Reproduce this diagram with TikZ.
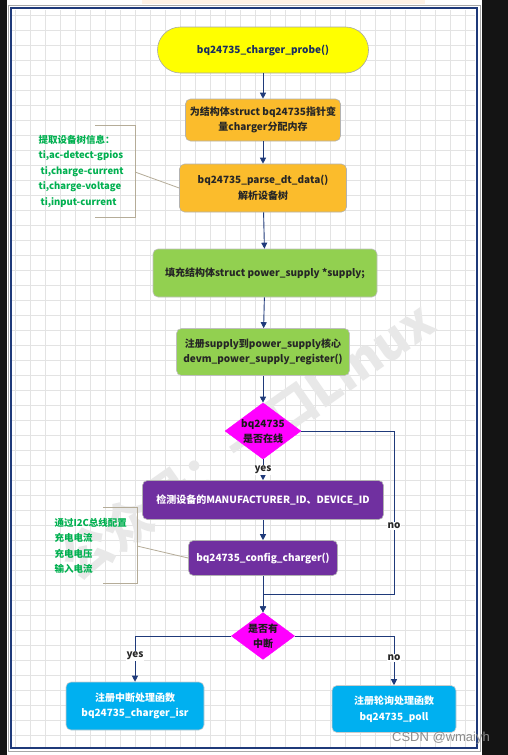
\documentclass[tikz,border=0pt]{standalone}
\usepackage{fontspec}
\setmainfont{Noto Sans CJK SC}
\newfontfamily\markfont{Liberation Sans}
\usetikzlibrary{arrows.meta,positioning,shapes.geometric}
\definecolor{FlowNavy}{HTML}{1F3A7A}
\definecolor{ProbeYellow}{HTML}{FFFF00}
\definecolor{StepOrange}{HTML}{FBBC2C}
\definecolor{StepGreen}{HTML}{92D050}
\definecolor{StepPurple}{HTML}{7030A0}
\definecolor{AskMagenta}{HTML}{FF00FF}
\definecolor{EndBlue}{HTML}{00B0F0}
\definecolor{NoteGreen}{HTML}{00B050}
\definecolor{NoteTan}{HTML}{B5AC98}

\begin{document}
\begin{tikzpicture}[x=1pt,y=-1pt,
  font=\bfseries\fontsize{10}{15.5}\selectfont,>={Triangle[length=6pt,width=6pt]},
  box/.style={draw,rounded corners=5pt,align=center,inner sep=2pt,line width=0.6pt},
  probebox/.style={box,rounded corners=23pt,fill=ProbeYellow,draw=black!35,text=FlowNavy!80!black},
  orangebox/.style={box,fill=StepOrange,draw=black!30,text=black!85},
  greenbox/.style={box,fill=StepGreen,draw=black!25,text=black!85},
  purplebox/.style={box,fill=StepPurple,draw=black!30,text=white},
  bluebox/.style={box,fill=EndBlue,draw=black!20,text=white},
  decision/.style={diamond,aspect=1.35,inner sep=0pt,fill=AskMagenta,draw=AskMagenta,
    align=center,text=black!90,font=\bfseries\fontsize{10}{15}\selectfont},
  flow/.style={->,draw=FlowNavy,line width=0.9pt},
  lbl/.style={fill=white,inner sep=1pt,text=black!85},
  note/.style={text=NoteGreen,align=left,font=\bfseries\fontsize{9.5}{15.5}\selectfont},
  noteline/.style={draw=NoteTan,line width=0.8pt},
  gridline/.style={draw=black!11,line width=0.4pt}]
  \useasboundingbox (0,0) rectangle (508,755);
  % page, frame and grid
  \fill[black!92] (0,0) rectangle (508,755);
  \fill[white] (7,0) rectangle (482,755);
  \fill[orange!10] (142,0) rectangle (425,4);
  \draw[gridline] (12,10) grid[step=15pt] (475,747);
  \draw[black!35,line width=0.6pt] (8,5) rectangle (480,751);
  \draw[FlowNavy,line width=1.6pt] (11,8) rectangle (477,748);
  \node[rotate=35,text=black!9,font=\bfseries\fontsize{50}{50}\selectfont] (mark) at (247,440) {公众号：一口Linux};

  % main flow
  \node[probebox,minimum width=211pt,minimum height=46pt] (probe) at (263,50) {bq24735\_charger\_probe()};
  \node[orangebox,minimum width=155pt,minimum height=42pt] (alloc) at (263,120) {为结构体struct bq24735指针变\\量charger分配内存};
  \node[orangebox,minimum width=167pt,minimum height=48pt] (parse) at (263,188) {bq24735\_parse\_dt\_data()\\解析设备树};
  \node[greenbox,minimum width=224pt,minimum height=48pt] (fill) at (265,273) {填充结构体struct power\_supply *supply;};
  \node[greenbox,minimum width=173pt,minimum height=47pt] (reg) at (263,352) {注册supply到power\_supply核心\\devm\_power\_supply\_register()};
  \node[decision] (online) at (263,431) {bq24735\\是否在线};
  \node[purplebox,minimum width=241pt,minimum height=39pt] (detect) at (263,500) {检测设备的MANUFACTURER\_ID、DEVICE\_ID};
  \node[purplebox,minimum width=149pt,minimum height=35pt] (config) at (263,558) {bq24735\_config\_charger()};
  \node[decision] (irq) at (263,636) {是否有\\中断};
  \node[bluebox,minimum width=138pt,minimum height=48pt] (isr) at (135,706) {注册中断处理函数\\bq24735\_charger\_isr};
  \node[bluebox,minimum width=124pt,minimum height=47pt] (poll) at (394,709) {注册轮询处理函数\\bq24735\_poll};

  \draw[flow] (probe) -- (alloc);
  \draw[flow] (alloc) -- (parse);
  \draw[flow] (parse) -- (fill);
  \draw[flow] (fill) -- (reg);
  \draw[flow] (reg) -- (online);
  \draw[flow] (online) -- node[lbl]{yes} (detect);
  \draw[flow] (detect) -- (config);
  \draw[flow] (config) -- (irq);
  \coordinate (skip) at (394,594);
  \draw[flow] (online.east) -| node[lbl,pos=0.79]{no} (skip) -| (irq.north);
  \draw[flow] (irq.west) -| node[lbl,pos=0.72]{yes} (isr);
  \draw[flow] (irq.east) -| node[lbl,pos=0.72]{no} (poll);

  % side notes
  \node[note,anchor=west] (dtnote) at (35,171) {提取设备树信息：\\ti,ac-detect-gpios\\\hspace{2pt}ti,charge-current\\ti,charge-voltage\\\hspace{2pt}ti,input-current};
  \draw[noteline] (95,125) -- (135,125) -- (135,217) -- (95,217);
  \coordinate (dttip) at (135,172);
  \draw[noteline] (dttip) -- (parse.west);
  \node[note,anchor=west] (i2cnote) at (51,546) {通过I2C总线配置\\充电电流\\充电电压\\输入电流};
  \draw[noteline] (103,507) -- (137,507) -- (137,583) -- (103,583);
  \coordinate (i2ctip) at (137,546);
  \draw[noteline] (i2ctip) -- (config.west);

  \node[font=\markfont\fontsize{13}{13}\selectfont,text=black!45] (csdn) at (441,738) {CSDN @wmaiyh};
\end{tikzpicture}
\end{document}
